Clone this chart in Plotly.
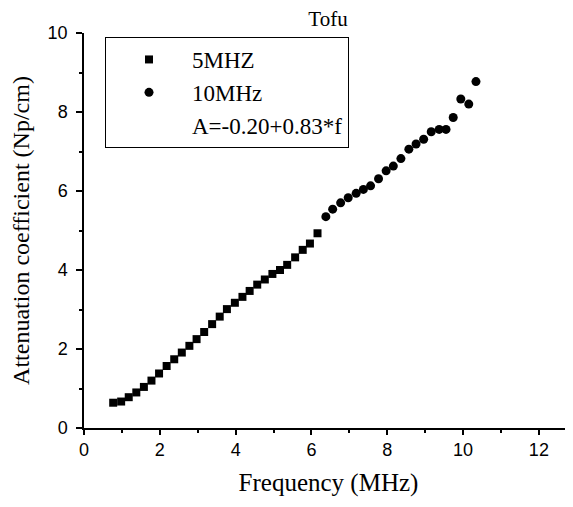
import plotly.graph_objects as go

# 5 MHz transducer (squares)
f_5mhz = [0.77, 0.98, 1.18, 1.38, 1.58, 1.78, 1.98, 2.18, 2.38, 2.58, 2.78, 2.97, 3.17, 3.38,
          3.58, 3.77, 3.98, 4.18, 4.37, 4.57, 4.77, 4.97, 5.17, 5.36, 5.57, 5.77, 5.96, 6.16]
a_5mhz = [0.64, 0.67, 0.78, 0.90, 1.04, 1.20, 1.38, 1.57, 1.74, 1.91, 2.08, 2.25, 2.43, 2.63,
          2.82, 3.01, 3.17, 3.32, 3.47, 3.63, 3.76, 3.90, 4.00, 4.13, 4.32, 4.51, 4.67, 4.93]

# 10 MHz transducer (circles)
f_10mhz = [6.38, 6.56, 6.77, 6.97, 7.18, 7.37, 7.56, 7.77, 7.97, 8.16, 8.36, 8.57, 8.76, 8.96,
           9.16, 9.37, 9.55, 9.74, 9.94, 10.15, 10.34]
a_10mhz = [5.35, 5.54, 5.70, 5.83, 5.94, 6.04, 6.13, 6.31, 6.51, 6.63, 6.82, 7.06, 7.19, 7.31,
           7.50, 7.56, 7.56, 7.86, 8.33, 8.20, 8.77]

fit_label = "A=-0.20+0.83*f"

serif = "Liberation Serif"
sans = "Liberation Sans"

fig = go.Figure()
fig.add_trace(go.Scatter(x=f_5mhz, y=a_5mhz, mode="markers", name="5MHZ",
                         marker=dict(symbol="square", size=8, color="black")))
fig.add_trace(go.Scatter(x=f_10mhz, y=a_10mhz, mode="markers", name="10MHz",
                         marker=dict(symbol="circle", size=9, color="black")))
# equation line of the legend (no symbol)
fig.add_trace(go.Scatter(x=[None], y=[None], mode="lines", name=fit_label,
                         line=dict(color="rgba(0,0,0,0)", width=0)))

# page body has an 8px margin, so the figure is 8px smaller and shifted
fig.update_layout(
    width=565, height=499,
    margin=dict(l=76, r=0, t=25, b=79, autoexpand=False),
    paper_bgcolor="white", plot_bgcolor="white",
    showlegend=True,
    title=dict(text="Tofu", x=320 / 565, xref="container", xanchor="center",
               y=1, yanchor="top", pad=dict(t=3),
               font=dict(family=serif, size=21, color="black")),
    legend=dict(x=21 / 489, y=(428 - 37) / 395, xanchor="left", yanchor="top",
                bordercolor="black", borderwidth=1, bgcolor="white",
                font=dict(family=serif, size=23, color="black"),
                itemwidth=76, tracegroupgap=0),
    xaxis=dict(range=[0, 12.9], tickvals=[0, 2, 4, 6, 8, 10, 12],
               showline=True, linecolor="black", linewidth=1.5, mirror=False,
               showgrid=False, zeroline=False,
               ticks="outside", ticklen=5, tickwidth=1.5, tickcolor="black",
               minor=dict(dtick=1, tick0=0, ticks="outside", ticklen=3, tickcolor="black"),
               tickfont=dict(family=sans, size=18, color="black"),
               title=dict(text="Frequency (MHz)", standoff=14,
                          font=dict(family=serif, size=25, color="black"))),
    yaxis=dict(range=[0, 10], tickvals=[0, 2, 4, 6, 8, 10],
               showline=True, linecolor="black", linewidth=1.5, mirror=False,
               showgrid=False, zeroline=False,
               ticks="outside", ticklen=6, tickwidth=1.5, tickcolor="black",
               ticklabelstandoff=5,
               minor=dict(dtick=1, tick0=0, ticks="outside", ticklen=3, tickcolor="black"),
               tickfont=dict(family=sans, size=18, color="black"),
               title=dict(text="Attenuation coefficient (Np/cm)", standoff=12,
                          font=dict(family=serif, size=24, color="black"))),
)

fig.write_html("out.html")
